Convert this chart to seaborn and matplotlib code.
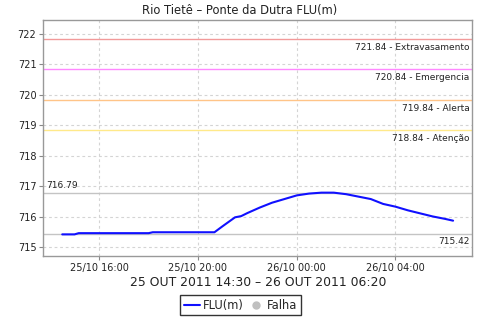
import matplotlib
matplotlib.use("Agg")
import matplotlib.pyplot as plt
import matplotlib.dates as mdates
from matplotlib.lines import Line2D
import seaborn as sns
import pandas as pd

sns.set_theme(style="white")
plt.rcParams['font.family'] = ['DejaVu Sans']

# ---- data ----
times = ["2011-10-25 14:30", "2011-10-25 15:00", "2011-10-25 15:10", "2011-10-25 16:00",
         "2011-10-25 17:00", "2011-10-25 18:00", "2011-10-25 18:10", "2011-10-25 19:00",
         "2011-10-25 20:00", "2011-10-25 20:40", "2011-10-25 21:00", "2011-10-25 21:30",
         "2011-10-25 21:45", "2011-10-25 22:00", "2011-10-25 22:30", "2011-10-25 23:00",
         "2011-10-25 23:30", "2011-10-26 00:00", "2011-10-26 00:30", "2011-10-26 01:00",
         "2011-10-26 01:30", "2011-10-26 02:00", "2011-10-26 02:30", "2011-10-26 03:00",
         "2011-10-26 03:30", "2011-10-26 04:00", "2011-10-26 04:30", "2011-10-26 05:00",
         "2011-10-26 05:30", "2011-10-26 06:00", "2011-10-26 06:20"]
levels = [715.42, 715.42, 715.46, 715.46,
          715.46, 715.46, 715.49, 715.49,
          715.49, 715.49, 715.69, 715.98,
          716.02, 716.12, 716.30, 716.46,
          716.58, 716.70, 716.76, 716.79,
          716.79, 716.74, 716.66, 716.58,
          716.42, 716.33, 716.21, 716.11,
          716.01, 715.93, 715.87]

threshold_values = [721.84, 720.84, 719.84, 718.84]
threshold_names = ["Extravasamento", "Emergencia", "Alerta", "Atenção"]
threshold_colors = ["#f29a9a", "#ff88ff", "#ffc488", "#ffe98a"]

max_value = 716.79
min_value = 715.42

title = "Rio Tietê – Ponte da Dutra FLU(m)"
xlabel = "25 OUT 2011 14:30 – 26 OUT 2011 06:20"

df = pd.DataFrame({"time": pd.to_datetime(times), "level": levels})

fig = plt.figure(figsize=(4.8, 3.2), dpi=100)
ax = fig.add_axes([0.0902, 0.2, 0.894, 0.7375])

# thresholds
for v, n, c in zip(threshold_values, threshold_names, threshold_colors):
    ax.axhline(v, color=c, lw=1.0, zorder=2)
    ax.annotate(f"{v:.2f} - {n}", xy=(0.993, v), xycoords=("axes fraction", "data"),
                xytext=(0, -3), textcoords="offset points", ha="right", va="top",
                fontsize=6.5, color="#222222")

# min / max
ax.axhline(max_value, color="#c4c4c4", lw=1.0, zorder=2)
ax.axhline(min_value, color="#c4c4c4", lw=1.0, zorder=2)
ax.annotate(f"{max_value:.2f}", xy=(0.007, max_value), xycoords=("axes fraction", "data"),
            xytext=(0, 2), textcoords="offset points", ha="left", va="bottom",
            fontsize=6.5, color="#222222")
ax.annotate(f"{min_value:.2f}", xy=(0.993, min_value), xycoords=("axes fraction", "data"),
            xytext=(0, -2), textcoords="offset points", ha="right", va="top",
            fontsize=6.5, color="#222222")

sns.lineplot(data=df, x="time", y="level", ax=ax, color="#1010ff", lw=1.5, zorder=3)

ax.set_ylim(714.71, 722.46)
ax.set_xlim(pd.Timestamp("2011-10-25 13:44"), pd.Timestamp("2011-10-26 07:07"))
ax.set_yticks(range(715, 723))
ax.set_xticks(pd.to_datetime(["2011-10-25 16:00", "2011-10-25 20:00",
                              "2011-10-26 00:00", "2011-10-26 04:00"]))
ax.xaxis.set_major_formatter(mdates.DateFormatter("%d/%m %H:%M"))

ax.grid(True, color="#d4d4d4", lw=0.8, linestyle=(0, (2.5, 2.5)))
ax.tick_params(axis="both", which="major", length=3, width=0.8, color="#888888",
               labelsize=7, pad=2, bottom=True, left=True, labelcolor="#222222")
for s in ax.spines.values():
    s.set_color("#999999")
    s.set_linewidth(1.0)

fig.text(0.5, 1 - 10.5 / 320, title, fontsize=8.3, color="#222222", ha="center", va="center")
ax.set_xlabel(xlabel, fontsize=8.9, color="#222222", labelpad=2)
ax.set_ylabel("")

handles = [Line2D([], [], color="#1010ff", lw=1.5),
           Line2D([], [], color="#c0c0c0", marker="o", linestyle="None", markersize=5)]
leg = fig.legend(handles, ["FLU(m)", "Falha"], loc="center", bbox_to_anchor=(0.501, 0.046),
                 ncol=2, fontsize=8.3, frameon=True, fancybox=False, borderpad=0.3,
                 handlelength=1.4, handletextpad=0.3, columnspacing=0.3, borderaxespad=0)
leg.get_frame().set_edgecolor("black")
leg.get_frame().set_linewidth(1.0)

fig.savefig("out.png", dpi=100)
